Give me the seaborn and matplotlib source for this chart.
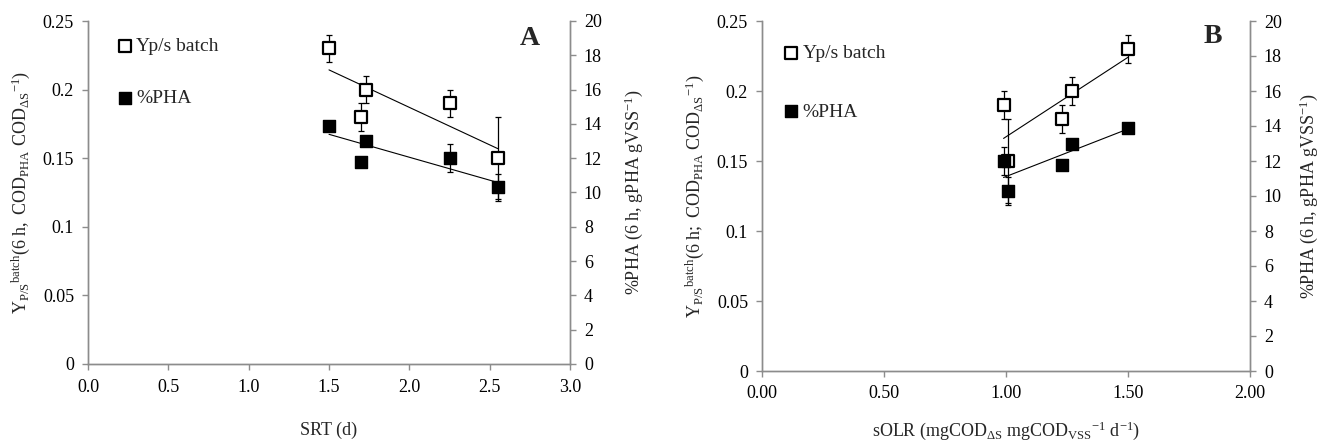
import matplotlib
matplotlib.use("Agg")
import matplotlib.pyplot as plt
import numpy as np
import seaborn as sns

# data (same five batches in both panels)
srt = [1.5, 1.7, 1.73, 2.25, 2.55]
solr = [1.5, 1.23, 1.27, 0.99, 1.01]
yps = [0.23, 0.18, 0.20, 0.19, 0.15]
yps_err = [0.01, 0.01, 0.01, 0.01, 0.03]
pha = [13.9, 11.8, 13.0, 12.0, 10.3]
pha_err = [0.0, 0.0, 0.0, 0.8, 0.8]

sns.set_style("ticks")
plt.rcParams["font.family"] = ["Liberation Serif", "DejaVu Serif"]
plt.rcParams["mathtext.fontset"] = "custom"
plt.rcParams["mathtext.rm"] = "Liberation Serif"
plt.rcParams["mathtext.it"] = "Liberation Serif"

GREY = "#8c8c8c"
FS = 13


def draw_panel(fig, rect, x, xlim, xticks, xfmt, xlabel, ylabel, letter, letter_pos,
               leg_anchor, leg_space, xpad, xlabelpad, y2pad):
    ax = fig.add_axes(rect)
    ax2 = ax.twinx()

    # Yp/s on left axis
    ax.errorbar(x, yps, yerr=yps_err, fmt="none", ecolor="black", elinewidth=0.9,
                capsize=2.5, capthick=0.9, zorder=2)
    sns.regplot(x=np.array(x), y=np.array(yps), ax=ax, ci=None, scatter=False, truncate=True,
                line_kws={"color": "black", "lw": 0.8})
    sns.scatterplot(x=x, y=yps, ax=ax, marker="s", color="white", edgecolor="black",
                    linewidth=1.6, s=75, zorder=3, label="Yp/s batch")

    # %PHA on right axis
    ax2.errorbar(x, pha, yerr=pha_err, fmt="none", ecolor="black", elinewidth=0.9,
                 capsize=2.5, capthick=0.9, zorder=2)
    sns.regplot(x=np.array(x), y=np.array(pha), ax=ax2, ci=None, scatter=False, truncate=True,
                line_kws={"color": "black", "lw": 0.8})
    sns.scatterplot(x=x, y=pha, ax=ax2, marker="s", color="black", edgecolor="black",
                    linewidth=1.0, s=75, zorder=3, label="%PHA")

    ax.set_xlim(*xlim)
    ax.set_ylim(0, 0.25)
    ax2.set_ylim(0, 20)
    ax.set_xticks(xticks)
    ax.set_xticklabels([xfmt.format(t) for t in xticks])
    ax.set_yticks([0, 0.05, 0.1, 0.15, 0.2, 0.25])
    ax.set_yticklabels(["0", "0.05", "0.1", "0.15", "0.2", "0.25"])
    ax2.set_yticks(range(0, 21, 2))

    for a in (ax, ax2):
        a.spines["top"].set_visible(False)
        for s in ("left", "right", "bottom"):
            a.spines[s].set_color(GREY)
            a.spines[s].set_linewidth(1.0)
        a.tick_params(colors=GREY, labelcolor="black", labelsize=FS, length=4, width=1.0)
    ax.tick_params(axis="x", pad=xpad)
    ax.tick_params(axis="y", pad=6)
    ax2.tick_params(axis="y", pad=6)

    ax.set_xlabel(xlabel, fontsize=FS, labelpad=xlabelpad)
    ax.set_ylabel(ylabel, fontsize=FS, labelpad=8)
    ax2.set_ylabel("%PHA (6 h, gPHA gVSS$\\mathregular{^{-1}}$)", fontsize=FS, labelpad=y2pad)

    if ax.get_legend() is not None:
        ax.get_legend().remove()
    h1, l1 = ax.get_legend_handles_labels()
    h2, l2 = ax2.get_legend_handles_labels()
    ax2.legend(h1 + h2, l1 + l2, loc="upper left", bbox_to_anchor=leg_anchor, frameon=False,
               fontsize=FS + 1, handletextpad=0.0, labelspacing=leg_space, handlelength=1.2,
               borderaxespad=0)

    ax.text(letter_pos[0], letter_pos[1], letter, transform=ax.transAxes, fontsize=20,
            fontweight="bold", ha="center", va="center")
    return ax, ax2


fig = plt.figure(figsize=(13.22, 4.42), dpi=100)

draw_panel(fig, [88 / 1322, 1 - 364 / 442, 482 / 1322, 343 / 442], srt,
           (0, 3.0), [0, 0.5, 1.0, 1.5, 2.0, 2.5, 3.0], "{:.1f}", "SRT (d)",
           "$\\mathregular{Y_{P/S}{}^{batch}(6\\ h,\\ COD_{PHA}\\ COD_{\\Delta S}{}^{-1})}$",
           "A", (0.917, 0.95), (0.036, 0.974), 1.75, 7, 18, 15)

draw_panel(fig, [762 / 1322, 1 - 371 / 442, 488 / 1322, 350 / 442], solr,
           (0, 2.0), [0, 0.5, 1.0, 1.5, 2.0], "{:.2f}",
           "sOLR (mgCOD$\\mathregular{_{\\Delta S}}$ mgCOD$\\mathregular{_{VSS}{}^{-1}}$ d$\\mathregular{^{-1}}$)",
           "$\\mathregular{Y_{P/S}{}^{batch}(6\\ h;\\ COD_{PHA}\\ COD_{\\Delta S}{}^{-1})}$",
           "B", (0.924, 0.957), (0.02, 0.955), 2.1, 6, 13, 11)

fig.savefig("out.png", dpi=100)
